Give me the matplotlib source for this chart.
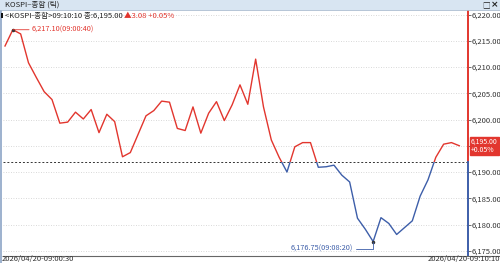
import matplotlib.pyplot as plt
import matplotlib.patches as patches
from matplotlib.lines import Line2D
import numpy as np
import pandas as pd

plt.rcParams['font.family'] = ['Liberation Sans Narrow', 'Noto Sans CJK KR', 'DejaVu Sans']

# KOSPI tick data, 10 second steps
times = pd.date_range('2026-04-20 09:00:30', '2026-04-20 09:10:10', freq='10s')
prices = [6214.0, 6217.1, 6216.3, 6210.8, 6208.0, 6205.3, 6203.8, 6199.3, 6199.5, 6201.4,
          6200.1, 6201.9, 6197.5, 6201.0, 6199.6, 6192.9, 6193.7, 6197.2, 6200.7, 6201.7,
          6203.5, 6203.3, 6198.3, 6197.9, 6202.4, 6197.4, 6201.2, 6203.4, 6199.8, 6202.8,
          6206.6, 6202.9, 6211.5, 6202.4, 6196.1, 6192.8, 6190.0, 6194.8, 6195.6, 6195.6,
          6190.9, 6191.0, 6191.3, 6189.4, 6188.1, 6181.2, 6179.1, 6176.75, 6181.3, 6180.2,
          6178.1, 6179.4, 6180.7, 6185.4, 6188.5, 6192.8, 6195.3, 6195.6, 6195.0]
prev_close = 6191.92
y_ticks = [6175, 6180, 6185, 6190, 6195, 6200, 6205, 6210, 6215, 6220]
title = 'KOSPI\u2013종합 (틱)'
info_black = '<KOSPI-종합>09:10:10 종:6,195.00 '
info_red = '▲3.08 +0.05%'
peak_label = '6,217.10(09:00:40)'
low_label = '6,176.75(09:08:20)'
last_label = '6,195.00\n+0.05%'
start_label = '2026/04/20-09:00:30'
end_label = '2026/04/20-09:10:10'

RED = '#e2362e'
BLUE = '#3d5ea9'

secs = np.array((times - times[0]).total_seconds())
p = np.array(prices)

W, H = 500, 263
fig = plt.figure(figsize=(W / 100, H / 100), dpi=100)

# window title bar
fig.add_artist(patches.Rectangle((0, 1 - 10 / H), 1, 10 / H, transform=fig.transFigure,
                                 fc='#d8e5f2', ec='none'))
fig.add_artist(Line2D([0, 1], [1 - 10 / H] * 2, color='#a9bbd0', lw=0.6))
fig.text(5 / W, 1 - 5 / H, title, fontsize=5.5, color='#222222', va='center')
fig.text(482 / W, 1 - 5 / H, '□', fontsize=5.5, color='#222222', va='center',
         family=['Noto Sans CJK KR', 'DejaVu Sans'])
fig.text(491 / W, 1 - 5 / H, '×', fontsize=6.5, color='#222222', va='center', weight='bold',
         family=['DejaVu Sans'])
# left frame
fig.add_artist(patches.Rectangle((0, 0), 2 / W, 1 - 10 / H, transform=fig.transFigure,
                                 fc='#9fb3cf', ec='none'))

ax = fig.add_axes([3 / W, 7 / H, 465 / W, 246.75 / H])
xmin, xmax = -2.55, 591.1
ymin, ymax = 6174.0, 6221.0
ax.set_xlim(xmin, xmax)
ax.set_ylim(ymin, ymax)
for s in ax.spines.values():
    s.set_visible(False)

# dotted grid + previous close
ax.hlines(y_ticks, xmin, xmax, colors='#cccccc', linestyles=(0, (1, 2)), lw=0.6)
ax.axhline(prev_close, color='#333333', ls=(0, (2, 2)), lw=0.7)

# price line, red above previous close and blue below
line_r, = ax.plot(secs, p, color=RED, lw=1.0)
line_r.set_clip_path(patches.Rectangle((xmin, prev_close), xmax - xmin, ymax - prev_close,
                                       transform=ax.transData))
line_b, = ax.plot(secs, p, color=BLUE, lw=1.0)
line_b.set_clip_path(patches.Rectangle((xmin, ymin), xmax - xmin, prev_close - ymin,
                                       transform=ax.transData))

# right axis line
ax.plot([xmax, xmax], [prev_close, ymax], color=RED, lw=1.4, clip_on=False)
ax.plot([xmax, xmax], [ymin, prev_close], color=BLUE, lw=1.4, clip_on=False)

# the current price box hides the 6,195.00 label
ax.yaxis.tick_right()
ax.set_yticks(y_ticks)
ax.set_yticklabels(['' if v == 6195 else '{:,.2f}'.format(v) for v in y_ticks])
ax.tick_params(axis='y', labelsize=5.5, length=2, width=0.6, color='#555555',
               labelcolor='#333333', pad=0.5)
ax.set_xticks([])

# high / low marks
i_hi = int(np.argmax(p))
i_lo = int(np.argmin(p))
ax.annotate(peak_label, xy=(secs[i_hi], p[i_hi]), xytext=(19, 0), textcoords='offset pixels',
            color=RED, fontsize=5.3, va='center', ha='left',
            arrowprops=dict(arrowstyle='-', color=RED, lw=0.6, shrinkA=0, shrinkB=0))
ax.annotate(low_label, xy=(secs[i_lo], p[i_lo]), xytext=(-20, -7), textcoords='offset pixels',
            color=BLUE, fontsize=5.3, va='center', ha='right',
            arrowprops=dict(arrowstyle='-', color=BLUE, lw=0.6, shrinkA=0, shrinkB=0,
                            relpos=(1, 0.5),
                            connectionstyle='angle,angleA=0,angleB=90,rad=0'))
ax.plot(secs[[i_hi, i_lo]], p[[i_hi, i_lo]], 'o', ms=1.5, color='#333333')

# current price box
ax.annotate(last_label, xy=(xmax, p[-1]), xytext=(3, 0), textcoords='offset pixels',
            color='white', fontsize=5, va='center', ha='left', linespacing=1.0,
            annotation_clip=False, zorder=5,
            bbox=dict(boxstyle='square,pad=0.15', fc=RED, ec=RED))

# info line
fig.add_artist(patches.Rectangle((0.6 / W, 1 - 17.5 / H), 2.4 / W, 4 / H,
                                 transform=fig.transFigure, fc='#111111', ec='none'))
t1 = fig.text(5 / W, 1 - 15.5 / H, info_black, fontsize=5.5, color='#222222', va='center')
ax.annotate(info_red, xy=(1, 0), xycoords=t1, va='bottom', ha='left', fontsize=5.5,
            color=RED, annotation_clip=False)

# bottom axis line + date labels
fig.add_artist(Line2D([3 / W, 1], [7 / H] * 2, color='#666666', lw=0.8))
fig.text(2 / W, 3.5 / H, start_label, fontsize=5.5, color='#333333', va='center', ha='left')
fig.text(1.0, 3.5 / H, end_label, fontsize=5.5, color='#333333', va='center', ha='right')

fig.savefig('out.png', dpi=100)
